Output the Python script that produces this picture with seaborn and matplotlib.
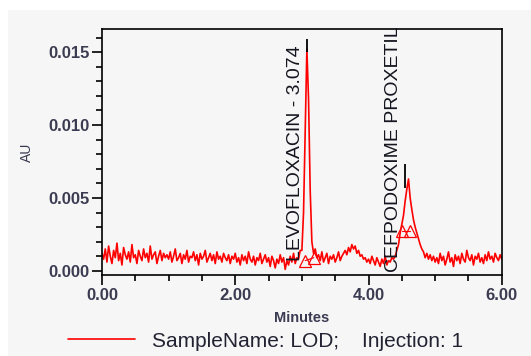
import numpy as np
import pandas as pd
import matplotlib
matplotlib.use("Agg")
import matplotlib.pyplot as plt
from matplotlib.patches import Rectangle
from matplotlib.ticker import MultipleLocator, FormatStrFormatter
import seaborn as sns

# detector signal, in units of 1e-4 AU, one point every 0.025 min
step_min = 0.025
signal_e4 = [
    12, 8, 15, 6, 17, 10, 5, 14, 9, 19, 7, 12, 4, 16, 11, 8, 13, 6, 18, 9,
    11, 5, 14, 10, 7, 15, 9, 12, 6, 17, 8, 11, 13, 5, 10, 14, 7, 12, 9, 11,
    8, 13, 6, 10, 15, 7, 9, 12, 5, 11, 8, 14, 6, 10, 9, 13, 7, 11, 4, 12,
    8, 10, 14, 6, 9, 12, 7, 11, 5, 13, 8, 10, 6, 12, 9, 7, 11, 5, 10, 8,
    12, 6, 9, 4, 11, 7, 10, 5, 13, 8, 6, 10, 4, 9, 7, 12, 5, 8, 11, 6,
    9, 3, 10, 7, 2, 8, 5, 11, 6, 9, 1, 7, 4, 10, 6, 12, 5, 9, 8, 14,
    14, 40, 95, 152, 118, 55, 20, 12, 15, 9,
    11, 7, 13, 6, 9, 12, 5, 10, 8, 11, 6, 9, 13, 7, 10, 12, 14, 11, 16, 13,
    18, 15, 17, 12, 14, 10, 11, 8, 9, 6,
    8, 5, 10, 7, 4, 9, 6, 3, 8, 5, 10, 4, 7, 6, 9, 8,
    10, 14, 18, 26, 32, 38, 48, 56, 63, 50, 42, 35, 30, 26, 22, 18, 15, 13, 9, 12,
    8, 11, 7, 10, 6,
    9, 5, 12, 7, 10, 4, 8, 13, 6, 9, 3, 11, 7, 10, 5, 12, 8, 6, 14, 9,
    7, 11, 4, 10, 8, 12, 6, 9, 5, 11, 7, 13, 8, 10, 6, 12, 9, 7, 11, 8,
]

peak_names = ["LEVOFLOXACIN - 3.074", "CEFPODOXIME PROXETIL"]
peak_label_x = [2.90, 4.37]
peak_label_y = [0.0007, -0.0001]
peak_tick_x = [3.074, 4.545]
peak_tick_top = [0.0159, 0.0073]
peak_tick_bottom = [0.0150, 0.0057]
# integration baseline markers (start, end) per peak
base_x = [[3.05, 3.18], [4.50, 4.63]]
base_y = [[0.0007, 0.0009], [0.0027, 0.0027]]

legend_text = "SampleName: LOD;    Injection: 1"

df = pd.DataFrame({
    "Minutes": np.arange(len(signal_e4)) * step_min,
    "AU": np.array(signal_e4) * 1e-4,
})

sns.set_style("ticks")
plt.rcParams["font.family"] = ["Liberation Sans", "DejaVu Sans"]

bg = "#f6f6f6"
txt = "#3b3b52"
fig = plt.figure(figsize=(5.31, 3.56), dpi=100, facecolor=bg)
# white margin strips at top and left of the original screenshot
fig.patches.append(Rectangle((0, 1 - 9 / 356), 1, 9 / 356, transform=fig.transFigure,
                             color="white", zorder=-1))
fig.patches.append(Rectangle((0, 0), 7 / 531, 1, transform=fig.transFigure,
                             color="white", zorder=-1))

ax = fig.add_axes([0.192, 0.227, 0.753, 0.692])
ax.set_facecolor(bg)

sns.lineplot(data=df, x="Minutes", y="AU", color="#ff0000", lw=1.2, ax=ax,
             label=legend_text, legend=False)

for bx, by in zip(base_x, base_y):
    ax.plot(bx, by, color="#ff0000", lw=0.8)
    ax.plot(bx, by, ls="none", marker="^", ms=8, mfc="none", mec="#ff0000", mew=0.9)

for name, lx, ly, tx, t0, t1 in zip(peak_names, peak_label_x, peak_label_y,
                                    peak_tick_x, peak_tick_bottom, peak_tick_top):
    ax.vlines(tx, t0, t1, color="black", lw=1.3)
    ax.text(lx, ly, name, rotation=90, ha="center", va="bottom",
            fontsize=14, color="#15151f")

ax.set_xlim(0, 6)
ax.set_ylim(-0.0003, 0.0166)
ax.xaxis.set_major_locator(MultipleLocator(2))
ax.xaxis.set_minor_locator(MultipleLocator(0.5))
ax.xaxis.set_major_formatter(FormatStrFormatter("%.2f"))
ax.yaxis.set_major_locator(MultipleLocator(0.005))
ax.yaxis.set_minor_locator(MultipleLocator(0.001))
ax.yaxis.set_major_formatter(FormatStrFormatter("%.3f"))
ax.tick_params(which="major", length=7, width=1.2, color="black",
               labelsize=12, labelcolor=txt, pad=2)
ax.tick_params(which="minor", length=4, width=1.2, color="black")
for lab in ax.get_xticklabels() + ax.get_yticklabels():
    lab.set_fontweight("bold")
for s in ax.spines.values():
    s.set_linewidth(1.2)
    s.set_color("black")

ax.set_xlabel("Minutes", fontsize=10.5, fontweight="bold", color=txt, labelpad=6)
ax.set_ylabel("AU", fontsize=10, color=txt, labelpad=10)

fig.legend(loc="center", bbox_to_anchor=(0.5, 0.042), frameon=False,
           fontsize=15, handlelength=3.2, handletextpad=0.8,
           labelcolor="#222233")

fig.savefig("out.png", dpi=100, facecolor=bg)
